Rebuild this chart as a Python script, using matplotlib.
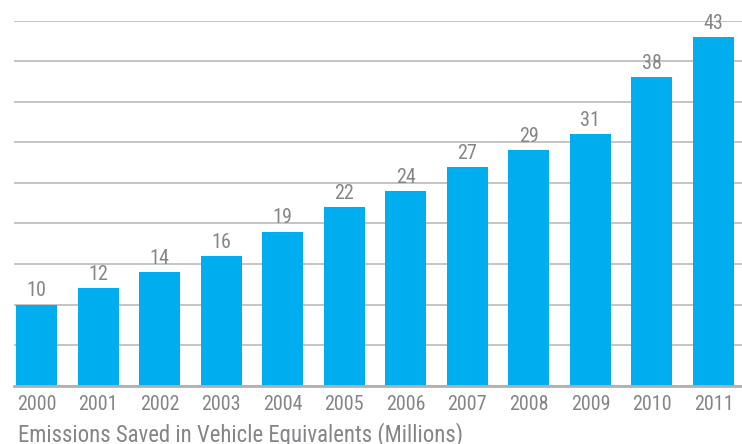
import matplotlib
matplotlib.use("Agg")
import matplotlib.pyplot as plt

years = ["2000", "2001", "2002", "2003", "2004", "2005", "2006", "2007", "2008", "2009", "2010", "2011"]
values = [10, 12, 14, 16, 19, 22, 24, 27, 29, 31, 38, 43]
yticks = [0, 5, 10, 15, 20, 25, 30, 35, 40, 45]
title = "Emissions Saved in Vehicle Equivalents (Millions)"

plt.rcParams["font.family"] = ["Roboto Condensed", "DejaVu Sans"]

txt = "#858589"
bar_c = "#00AEEF"

fig = plt.figure(figsize=(7.42, 4.44), dpi=100)
ax = fig.add_axes([14/742, (444-385.7)/444, 1 - 14/742, (385.7-20.7)/444])
x = list(range(len(years)))
ax.bar(x, values, width=0.666, color=bar_c, zorder=3)
ax.set_xlim(-0.366, 11.463)
ax.set_ylim(0, 45)
ax.set_yticks(yticks)
ax.yaxis.grid(True, color="#c4c4c4", linewidth=1.4, zorder=0)
ax.tick_params(axis="y", left=False, labelleft=False)
ax.tick_params(axis="x", bottom=False, labelsize=14.5, labelcolor=txt, pad=3)
ax.set_xticks(x)
ax.set_xticklabels(years)
for s in ["top", "right", "left"]:
    ax.spines[s].set_visible(False)
ax.spines["bottom"].set_color("#b0b0b0")
ax.spines["bottom"].set_linewidth(2)
ax.spines["bottom"].set_zorder(4)
for xi, v in zip(x, values):
    ax.annotate(str(v), (xi, v), xytext=(0, 3), textcoords="offset points",
                ha="center", va="bottom", fontsize=14.5, color=txt, zorder=5)
fig.text(18/742, 1 - 435/444, title, fontsize=16.4, color=txt, ha="left", va="center")
fig.savefig("out.png", dpi=100)
